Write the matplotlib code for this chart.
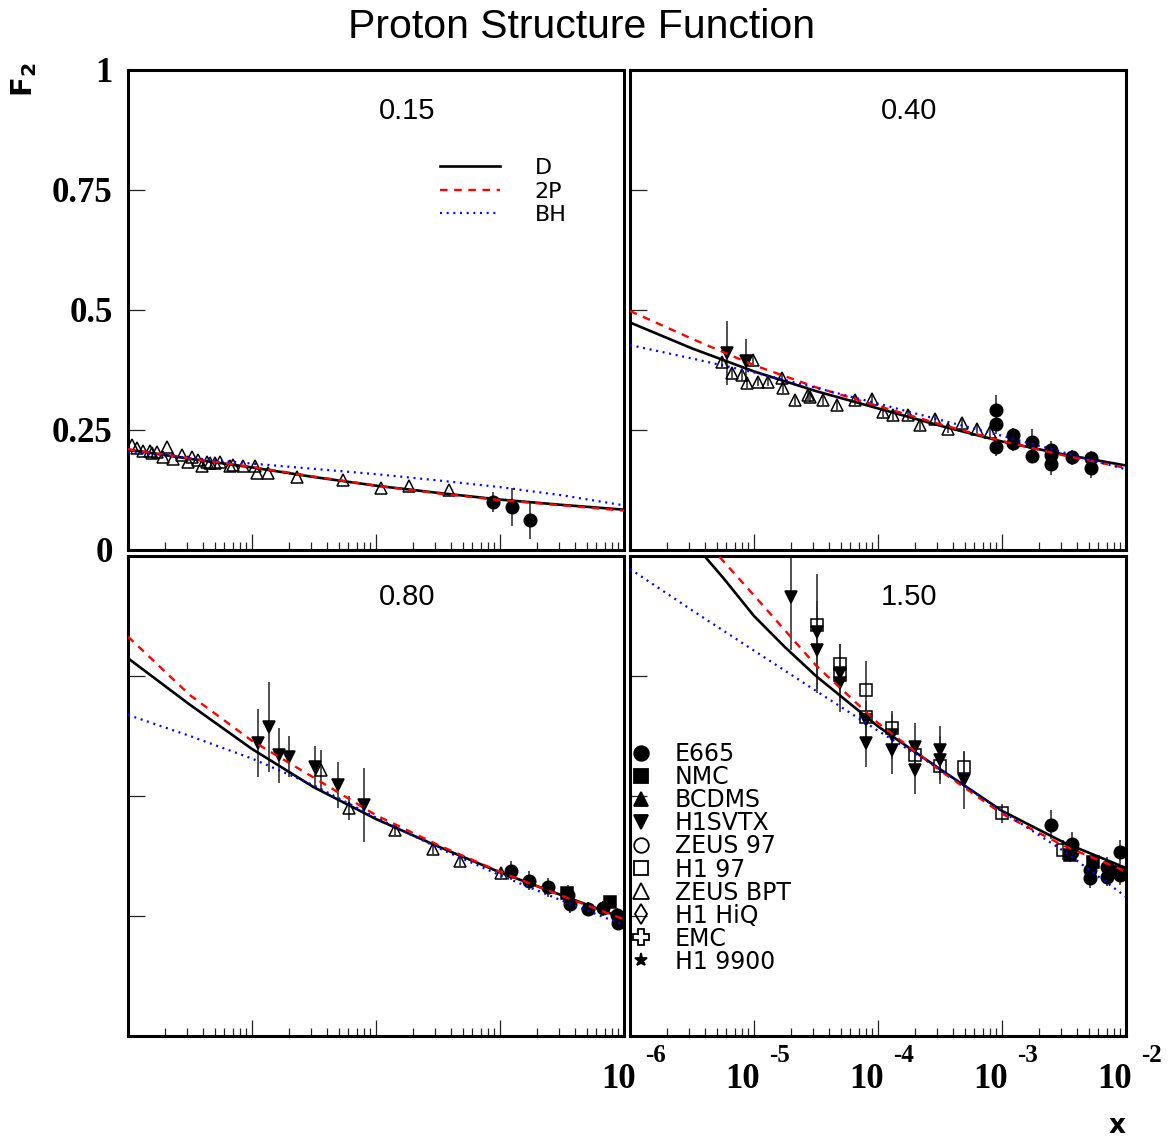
import matplotlib
matplotlib.use('Agg')
import matplotlib.pyplot as plt
import numpy as np
from matplotlib.lines import Line2D
from matplotlib.ticker import LogLocator, NullLocator, FixedLocator
import matplotlib.transforms as mtransforms

plt.rcParams['mathtext.fontset'] = 'dejavusans'

# ---------------- data (x given as log10(x)) ----------------
q2_labels = ['0.15', '0.40', '0.80', '1.50']

curve_lx = [-6.0, -5.5, -5.0, -4.5, -4.0, -3.5, -3.0, -2.5, -2.0]
D_015 = [0.209, 0.190, 0.172, 0.152, 0.134, 0.119, 0.105, 0.094, 0.084]
P2_015 = [0.210, 0.191, 0.173, 0.153, 0.134, 0.118, 0.104, 0.093, 0.082]
BH_015 = [0.204, 0.192, 0.180, 0.169, 0.158, 0.145, 0.131, 0.114, 0.093]

D_040 = [0.474, 0.420, 0.372, 0.331, 0.295, 0.259, 0.226, 0.199, 0.176]
P2_040 = [0.498, 0.440, 0.385, 0.339, 0.300, 0.262, 0.227, 0.197, 0.171]
BH_040 = [0.427, 0.399, 0.370, 0.338, 0.305, 0.271, 0.238, 0.203, 0.168]

D_080 = [0.787, 0.690, 0.598, 0.518, 0.452, 0.395, 0.341, 0.293, 0.245]
P2_080 = [0.832, 0.710, 0.615, 0.538, 0.460, 0.398, 0.342, 0.292, 0.243]
BH_080 = [0.669, 0.625, 0.578, 0.522, 0.455, 0.392, 0.335, 0.282, 0.231]

curve_lx_150 = [-5.5, -5.25, -5.0, -4.75, -4.5, -4.0, -3.5, -3.0, -2.5, -2.0]
D_150 = [1.030, 0.955, 0.875, 0.810, 0.750, 0.645, 0.556, 0.469, 0.403, 0.350]
P2_150 = [1.065, 0.990, 0.918, 0.845, 0.772, 0.652, 0.553, 0.463, 0.396, 0.343]
BH_150 = [0.973, 0.887, 0.803, 0.719, 0.636, 0.556, 0.468, 0.385, 0.290]

# Q2 = 0.15
zbpt_015_lx = [-5.970, -5.930, -5.879, -5.823, -5.809, -5.769, -5.718, -5.688, -5.637, -5.567,
               -5.516, -5.486, -5.435, -5.406, -5.365, -5.339, -5.298, -5.258, -5.177, -5.153,
               -5.073, -4.976, -4.962, -4.869, -4.640, -4.264, -3.960, -3.731, -3.409]
zbpt_015_f2 = [0.219, 0.212, 0.207, 0.207, 0.202, 0.204, 0.194, 0.215, 0.190, 0.198,
               0.184, 0.194, 0.188, 0.174, 0.184, 0.181, 0.181, 0.184, 0.174, 0.177,
               0.175, 0.174, 0.160, 0.160, 0.153, 0.146, 0.129, 0.134, 0.126]
e665_015_lx = [-3.054, -2.906, -2.758]
e665_015_f2 = [0.100, 0.089, 0.0625]
e665_015_err = [0.02, 0.04, 0.04]

# Q2 = 0.40
h1svtx_040_lx = [-5.220, -5.065]
h1svtx_040_f2 = [0.410, 0.394]
h1svtx_040_err = [0.067, 0.045]
zbpt_040_lx = [-5.261, -5.180, -5.099, -5.059, -5.005, -4.965, -4.884, -4.777, -4.764, -4.669,
               -4.562, -4.548, -4.441, -4.333, -4.185, -4.051, -3.957, -3.876, -3.755, -3.661,
               -3.540, -3.433, -3.325, -3.204, -3.097]
zbpt_040_f2 = [0.392, 0.368, 0.365, 0.347, 0.396, 0.351, 0.351, 0.358, 0.337, 0.3125,
               0.323, 0.319, 0.3125, 0.302, 0.3125, 0.314, 0.288, 0.281, 0.281, 0.260,
               0.272, 0.253, 0.265, 0.253, 0.246]
e665_040_lx = [-3.051, -3.051, -3.051, -2.909, -2.909, -2.755, -2.755, -2.608, -2.608, -2.608,
               -2.438, -2.285, -2.285]
e665_040_f2 = [0.292, 0.2625, 0.215, 0.240, 0.222, 0.224, 0.196, 0.208, 0.198, 0.179,
               0.193, 0.191, 0.171]
e665_040_err = [0.03, 0.02, 0.02, 0.015, 0.015, 0.028, 0.015, 0.02, 0.015, 0.022,
                0.015, 0.015, 0.02]

# Q2 = 0.80
h1svtx_080_lx = [-4.954, -4.863, -4.785, -4.699, -4.494, -4.304, -4.097]
h1svtx_080_f2 = [0.610, 0.643, 0.585, 0.582, 0.561, 0.523, 0.481]
h1svtx_080_err = [0.071, 0.094, 0.057, 0.043, 0.044, 0.048, 0.077]
zbpt_080_lx = [-4.444, -4.220, -3.844, -3.543, -3.323, -2.994]
zbpt_080_f2 = [0.554, 0.474, 0.429, 0.389, 0.365, 0.339]
zbpt_080_err = [0.041, 0.025, 0.01, 0.01, 0.01, 0.01]
e665_080_lx = [-2.911, -2.764, -2.610, -2.449, -2.435, -2.288, -2.167, -2.059, -2.046]
e665_080_f2 = [0.344, 0.3235, 0.310, 0.294, 0.276, 0.264, 0.266, 0.252, 0.236]
e665_080_err = [0.02, 0.02, 0.02, 0.02, 0.02, 0.015, 0.015, 0.015, 0.015]
nmc_080_lx = [-2.463, -2.113]
nmc_080_f2 = [0.297, 0.280]

# Q2 = 1.50
h1svtx_150_lx = [-4.702, -4.495, -4.495, -4.306, -4.306, -4.099, -4.099, -3.891, -3.891,
                 -3.702, -3.702, -3.500, -3.500, -3.304]
h1svtx_150_f2 = [0.915, 0.842, 0.804, 0.756, 0.735, 0.658, 0.610, 0.627, 0.596,
                 0.603, 0.554, 0.596, 0.575, 0.533]
h1svtx_150_err = [0.11, 0.12, 0.09, 0.06, 0.06, 0.04, 0.05, 0.05, 0.05,
                  0.05, 0.05, 0.05, 0.05, 0.06]
h197_150_lx = [-4.495, -4.306, -4.306, -4.099, -4.099, -3.891, -3.702, -3.500, -3.304, -3.003, -2.506]
h197_150_f2 = [0.856, 0.776, 0.752, 0.721, 0.665, 0.641, 0.585, 0.5625, 0.561, 0.464, 0.3875]
h197_150_err = [0.05, 0.04, 0.03, 0.06, 0.03, 0.03, 0.03, 0.03, 0.03, 0.02, 0.02]
e665_150_lx = [-2.608, -2.438, -2.438, -2.290, -2.290, -2.155, -2.155, -2.048, -2.048]
e665_150_f2 = [0.440, 0.401, 0.384, 0.346, 0.3285, 0.353, 0.332, 0.384, 0.335]
e665_150_err = [0.03, 0.025, 0.02, 0.02, 0.02, 0.02, 0.02, 0.025, 0.02]
nmc_150_lx = [-2.452, -2.264, -2.089, -2.022]
nmc_150_f2 = [0.377, 0.363, 0.342, 0.339]

dataset_names = ['E665', 'NMC', 'BCDMS', 'H1SVTX', 'ZEUS 97', 'H1 97', 'ZEUS BPT',
                 'H1 HiQ', 'EMC', 'H1 9900']
curve_names = ['D', '2P', 'BH']
ytick_vals = [0, 0.25, 0.5, 0.75, 1]
ytick_text = ['0', '0.25', '0.5', '0.75', '1']
xtick_exps = ['-6', '-5', '-4', '-3', '-2']

# ---------------- figure ----------------
W, H = 1170, 1138
fig = plt.figure(figsize=(W / 100, H / 100), dpi=100)


def ax_at(l, t, r, b):
    return fig.add_axes([l / W, 1 - b / H, (r - l) / W, (b - t) / H])


ax_tl = ax_at(128, 70, 624, 550)
ax_tr = ax_at(630, 70, 1126, 550)
ax_bl = ax_at(128, 556, 624, 1036)
ax_br = ax_at(630, 556, 1126, 1036)
axes = [ax_tl, ax_tr, ax_bl, ax_br]

X = lambda lx: np.power(10.0, np.asarray(lx, dtype=float))

for ax, lab in zip(axes, q2_labels):
    ax.set_xscale('log')
    ax.set_xlim(1e-6, 1e-2)
    ax.set_ylim(0, 1)
    ax.xaxis.set_major_locator(LogLocator(base=10, numticks=10))
    ax.xaxis.set_minor_locator(LogLocator(base=10, subs=np.arange(2, 10), numticks=40))
    ax.yaxis.set_major_locator(FixedLocator(ytick_vals))
    ax.yaxis.set_minor_locator(NullLocator())
    ax.tick_params(axis='x', which='major', direction='in', length=11.5, width=0.9,
                   top=False, labelbottom=False, color='#222222')
    ax.tick_params(axis='x', which='minor', direction='in', length=5.8, width=0.9,
                   top=False, color='#222222')
    ax.tick_params(axis='y', which='major', direction='in', length=12.5, width=0.9,
                   right=False, labelleft=False, color='#222222')
    for sp in ax.spines.values():
        sp.set_linewidth(2.2)
    ax.text(0.5625, 0.915, lab, transform=ax.transAxes, ha='center', va='center',
            fontsize=21, family='Liberation Sans')

# y tick labels on top-left
ax_tl.tick_params(axis='y', labelleft=True, pad=11)
ax_tl.set_yticklabels(ytick_text, fontsize=25, family='Liberation Serif', fontweight='bold')

RED_LS = (0, (3.2, 2.8))
BLUE_LS = (0, (0.9, 2.1))

def draw_curves(ax, lx, d, p2, bh, lx_bh=None):
    ax.plot(X(lx), d, color='black', lw=1.9, ls='-', zorder=5)
    ax.plot(X(lx), p2, color='#ff0000', lw=1.7, ls=RED_LS, zorder=5)
    ax.plot(X(lx if lx_bh is None else lx_bh), bh, color='#0000ff', lw=1.6,
            ls=BLUE_LS, zorder=5)

draw_curves(ax_tl, curve_lx, D_015, P2_015, BH_015)
draw_curves(ax_tr, curve_lx, D_040, P2_040, BH_040)
draw_curves(ax_bl, curve_lx, D_080, P2_080, BH_080)
draw_curves(ax_br, curve_lx_150, D_150, P2_150, BH_150, lx_bh=curve_lx)

ecol = '#333333'
def pts(ax, lx, f2, err, marker, filled, ms):
    if err is not None:
        ax.errorbar(X(lx), f2, yerr=err, fmt='none', ecolor=ecol, elinewidth=1.2,
                    capsize=0, zorder=2)
    ax.plot(X(lx), f2, ls='none', marker=marker, ms=ms,
            mfc='black' if filled else 'none', mec='black', mew=1.1, zorder=3)

# Q2 0.15
pts(ax_tl, zbpt_015_lx, zbpt_015_f2, None, '^', False, 9)
pts(ax_tl, e665_015_lx, e665_015_f2, e665_015_err, 'o', True, 9)
# Q2 0.40
pts(ax_tr, zbpt_040_lx, zbpt_040_f2, [0.01] * len(zbpt_040_f2), '^', False, 9)
pts(ax_tr, h1svtx_040_lx, h1svtx_040_f2, h1svtx_040_err, 'v', True, 8.5)
pts(ax_tr, e665_040_lx, e665_040_f2, e665_040_err, 'o', True, 9)
# Q2 0.80
pts(ax_bl, h1svtx_080_lx, h1svtx_080_f2, h1svtx_080_err, 'v', True, 8.5)
pts(ax_bl, zbpt_080_lx, zbpt_080_f2, zbpt_080_err, '^', False, 9)
pts(ax_bl, e665_080_lx, e665_080_f2, e665_080_err, 'o', True, 9)
pts(ax_bl, nmc_080_lx, nmc_080_f2, [0.01] * len(nmc_080_f2), 's', True, 8.0)
# Q2 1.50
pts(ax_br, h1svtx_150_lx, h1svtx_150_f2, h1svtx_150_err, 'v', True, 8.5)
pts(ax_br, h197_150_lx, h197_150_f2, h197_150_err, 's', False, 8.5)
pts(ax_br, e665_150_lx, e665_150_f2, e665_150_err, 'o', True, 9)
pts(ax_br, nmc_150_lx, nmc_150_f2, [0.015] * len(nmc_150_f2), 's', True, 8.0)

# legend for curves (top-left)
curve_handles = [
    Line2D([], [], color='black', lw=1.9, ls='-'),
    Line2D([], [], color='#ff0000', lw=1.7, ls=RED_LS),
    Line2D([], [], color='#0000ff', lw=1.6, ls=BLUE_LS),
]
ax_tl.legend(curve_handles, curve_names, loc='upper left',
             bbox_to_anchor=(0.629, 0.8167), frameon=False, borderpad=0, borderaxespad=0,
             handlelength=2.7, handletextpad=1.55, labelspacing=0.16,
             prop=dict(family='DejaVu Sans', size=16))

# legend for datasets (bottom-right)
ds_markers = [('o', True, 10.5), ('s', True, 10), ('^', True, 10.5), ('v', True, 10.5),
              ('o', False, 10.5), ('s', False, 10), ('^', False, 11), ('d', False, 10.5),
              ('P', False, 11), ('*', True, 9.5)]
ds_handles = [Line2D([], [], ls='none', marker=m, ms=s, mfc='black' if f else 'none',
                     mec='black', mew=1.3) for m, f, s in ds_markers]
ax_br.legend(ds_handles, dataset_names, loc='upper left', bbox_to_anchor=(0.0, 0.612),
             frameon=False, borderpad=0, borderaxespad=0, handlelength=0.9,
             handletextpad=1.0, labelspacing=-0.04,
             prop=dict(family='DejaVu Sans', size=17))

# x tick labels under bottom-right
trans = mtransforms.blended_transform_factory(ax_br.transData, ax_br.transAxes)
for e in xtick_exps:
    xv = 10.0 ** float(e)
    t1 = mtransforms.offset_copy(trans, fig=fig, x=6, y=-52, units='dots')
    ax_br.text(xv, 0, '10', transform=t1, ha='right', va='baseline', fontsize=25,
               family='Liberation Serif', fontweight='bold', clip_on=False)
    t2 = mtransforms.offset_copy(trans, fig=fig, x=15, y=-26, units='dots')
    ax_br.text(xv, 0, e, transform=t2, ha='left', va='baseline', fontsize=18,
               family='Liberation Serif', fontweight='bold', clip_on=False)

# axis titles
fig.text(1117 / W, 1 - 1126 / H, 'x', ha='center', va='center', fontsize=19,
         family='DejaVu Sans', fontweight='bold')
fig.text(24 / W, 1 - 80 / H, r'$\mathbf{F_2}$', ha='center', va='center', fontsize=21,
         rotation=90)
fig.text(582 / W, 1 - 27 / H, 'Proton Structure Function', ha='center', va='center',
         fontsize=29.5, family='Liberation Sans')

fig.savefig('out.png', dpi=100)
